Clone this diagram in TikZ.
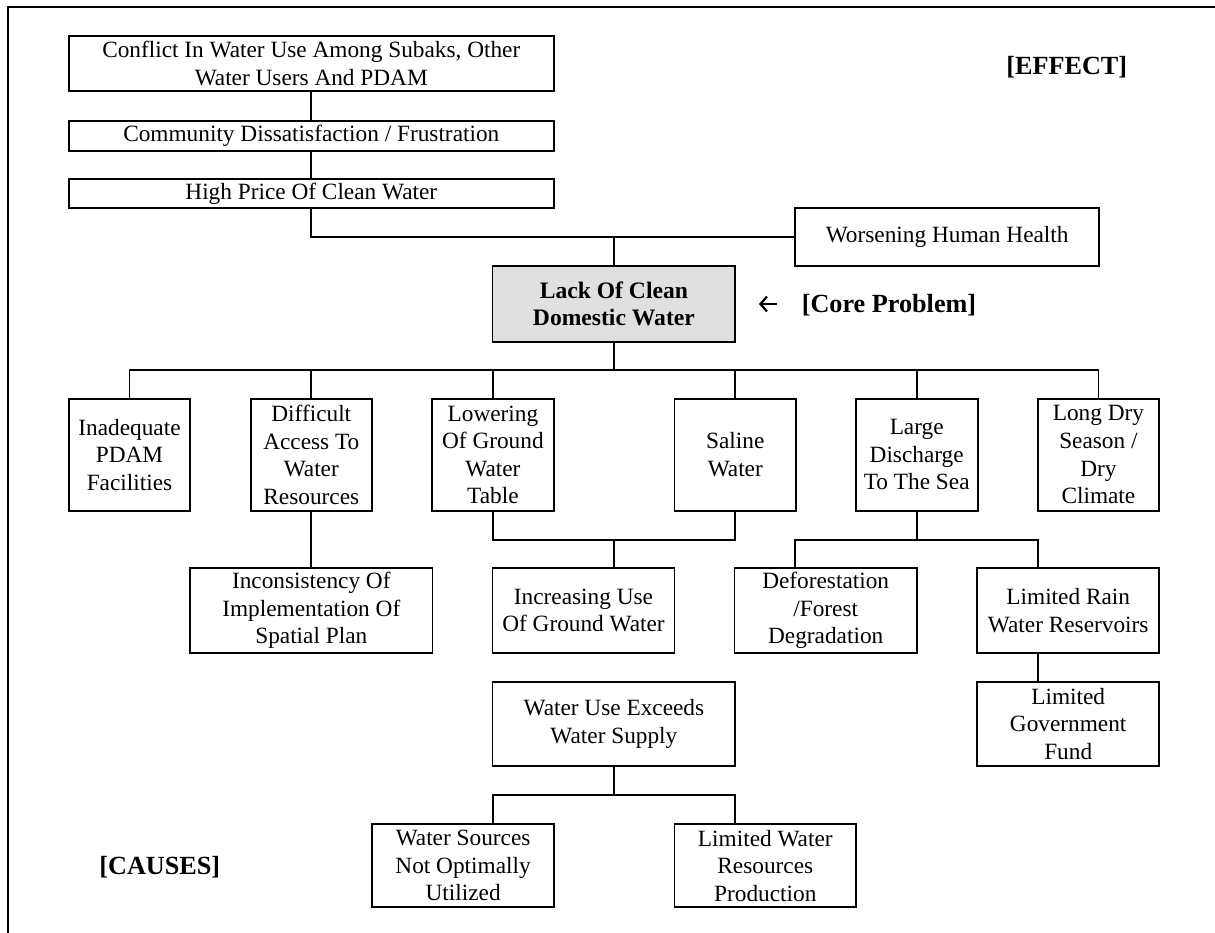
\documentclass[tikz,border=0pt]{standalone}
\usepackage{fontspec}
\setmainfont{Liberation Serif}
\usetikzlibrary{arrows.meta}
\definecolor{coregray}{RGB}{224,224,224}
\begin{document}
\begin{tikzpicture}[x=1pt,y=-1pt,
  box/.style={draw, line width=1.8pt, inner sep=0pt, align=center,
              font=\fontsize{23.3}{27.6}\selectfont},
  wire/.style={line width=1.8pt},
  tag/.style={inner sep=0pt, font=\fontsize{26.2}{30}\selectfont\bfseries}]
\useasboundingbox (0,0) rectangle (1215,933);

% outer frame (top and left edges)
\draw[line width=2pt] (8.4,933) -- (8.4,6.7) -- (1215,6.7);

% effects
\node[box, minimum width=484.9, minimum height=55] (conflict) at (311.3,63.5)
  {Conflict In Water Use Among Subaks, Other\\Water Users And PDAM};
\node[box, minimum width=484.9, minimum height=29.4] (community) at (311.3,136)
  {Community Dissatisfaction / Frustration};
\node[box, minimum width=484.9, minimum height=29.6] (price) at (311.3,193.5)
  {High Price Of Clean Water};
\node[box, minimum width=303.9, minimum height=58] (health) at (947.2,236.7)
  {Worsening Human Health};

% core problem
\node[box, fill=coregray, minimum width=242.8, minimum height=76.3,
      font=\fontsize{23.6}{27.6}\selectfont\bfseries] (core) at (613.9,303.8)
  {Lack Of Clean\\Domestic Water};

% first level causes
\node[box, minimum width=121.3, minimum height=112.3] (inadequate) at (129.5,454.8)
  {Inadequate\\PDAM\\Facilities};
\node[box, minimum width=121.3, minimum height=112.3] (difficult) at (311.3,454.8)
  {Difficult\\Access To\\Water\\Resources};
\node[box, minimum width=122.5, minimum height=112.3] (lowering) at (492.9,454.8)
  {Lowering\\Of Ground\\Water\\Table};
\node[box, minimum width=121.5, minimum height=112.3] (saline) at (735.3,454.8)
  {Saline\\Water};
\node[box, minimum width=121.9, minimum height=112.3] (large) at (916.7,454.8)
  {Large\\Discharge\\To The Sea};
\node[box, minimum width=121.6, minimum height=112.3] (longdry) at (1098.4,454.8)
  {Long Dry\\Season /\\Dry\\Climate};

% second level causes
\node[box, minimum width=242.3, minimum height=84.4] (inconsistency) at (311.3,610.5)
  {Inconsistency Of\\Implementation Of\\Spatial Plan};
\node[box, minimum width=182, minimum height=84.4] (increasing) at (583.5,610.5)
  {Increasing Use\\Of Ground Water};
\node[box, minimum width=182.4, minimum height=84.4] (deforest) at (825.7,610.5)
  {Deforestation\\/Forest\\Degradation};
\node[box, minimum width=181.9, minimum height=84.4] (rain) at (1068.2,610.5)
  {Limited Rain\\Water Reservoirs};

% deeper causes
\node[box, minimum width=242.8, minimum height=84] (wateruse) at (613.9,723.7)
  {Water Use Exceeds\\Water Supply};
\node[box, minimum width=181.9, minimum height=84] (govfund) at (1068.2,723.7)
  {Limited\\Government\\Fund};
\node[box, minimum width=182.2, minimum height=83.3] (sources) at (463.1,865.7)
  {Water Sources\\Not Optimally\\Utilized};
\node[box, minimum width=181.6, minimum height=83.3] (production) at (765.3,865.7)
  {Limited Water\\Resources\\Production};

% section labels
\node[tag] (effect) at (1066.7,66.7) {[EFFECT]};
\node[tag] (coreprob) at (889,305) {[Core Problem]};
\node[tag] (causes) at (159.8,866.7) {[CAUSES]};
\coordinate (arrtail) at (777,304);
\coordinate (arrhead) at (759,304);
\draw[line width=2.2pt, -{Straight Barb[length=6.5pt,width=15pt,line width=2.2pt]}]
  (arrtail) -- (arrhead);

% effect chain
\draw[wire] (conflict.south) -- (community.north);
\draw[wire] (community.south) -- (price.north);
\draw[wire] (price.south) |- (health.west);
\draw[wire] (core.north) -- (core.north |- health.west);

% bus below the core problem
\coordinate (bus) at (0,370);
\draw[wire] (core.south) -- (core.south |- bus);
\draw[wire] (inadequate.north) -- (inadequate.north |- bus)
  -- (longdry.north |- bus) -- (longdry.north);
\foreach \n in {difficult,lowering,saline,large}
  \draw[wire] (\n.north) -- (\n.north |- bus);

% second level links
\coordinate (lbus) at (0,540);
\draw[wire] (difficult.south) -- (inconsistency.north);
\draw[wire] (lowering.south) -- (lowering.south |- lbus)
  -- (saline.south |- lbus) -- (saline.south);
\draw[wire] (core.south |- lbus) -- (core.south |- increasing.north);
\coordinate (dfin) at (795.3,568.3);
\coordinate (rnin) at (1037.6,568.3);
\draw[wire] (large.south) -- (large.south |- lbus);
\draw[wire] (dfin) -- (dfin |- lbus) -- (rnin |- lbus) -- (rnin);
\draw[wire] (rnin |- rain.south) -- (rnin |- govfund.north);

% water use branches
\coordinate (bbus) at (0,795);
\coordinate (srcin) at (492.9,824);
\coordinate (prodin) at (735.3,824);
\draw[wire] (wateruse.south) -- (wateruse.south |- bbus);
\draw[wire] (srcin) -- (srcin |- bbus) -- (prodin |- bbus) -- (prodin);
\end{tikzpicture}
\end{document}
